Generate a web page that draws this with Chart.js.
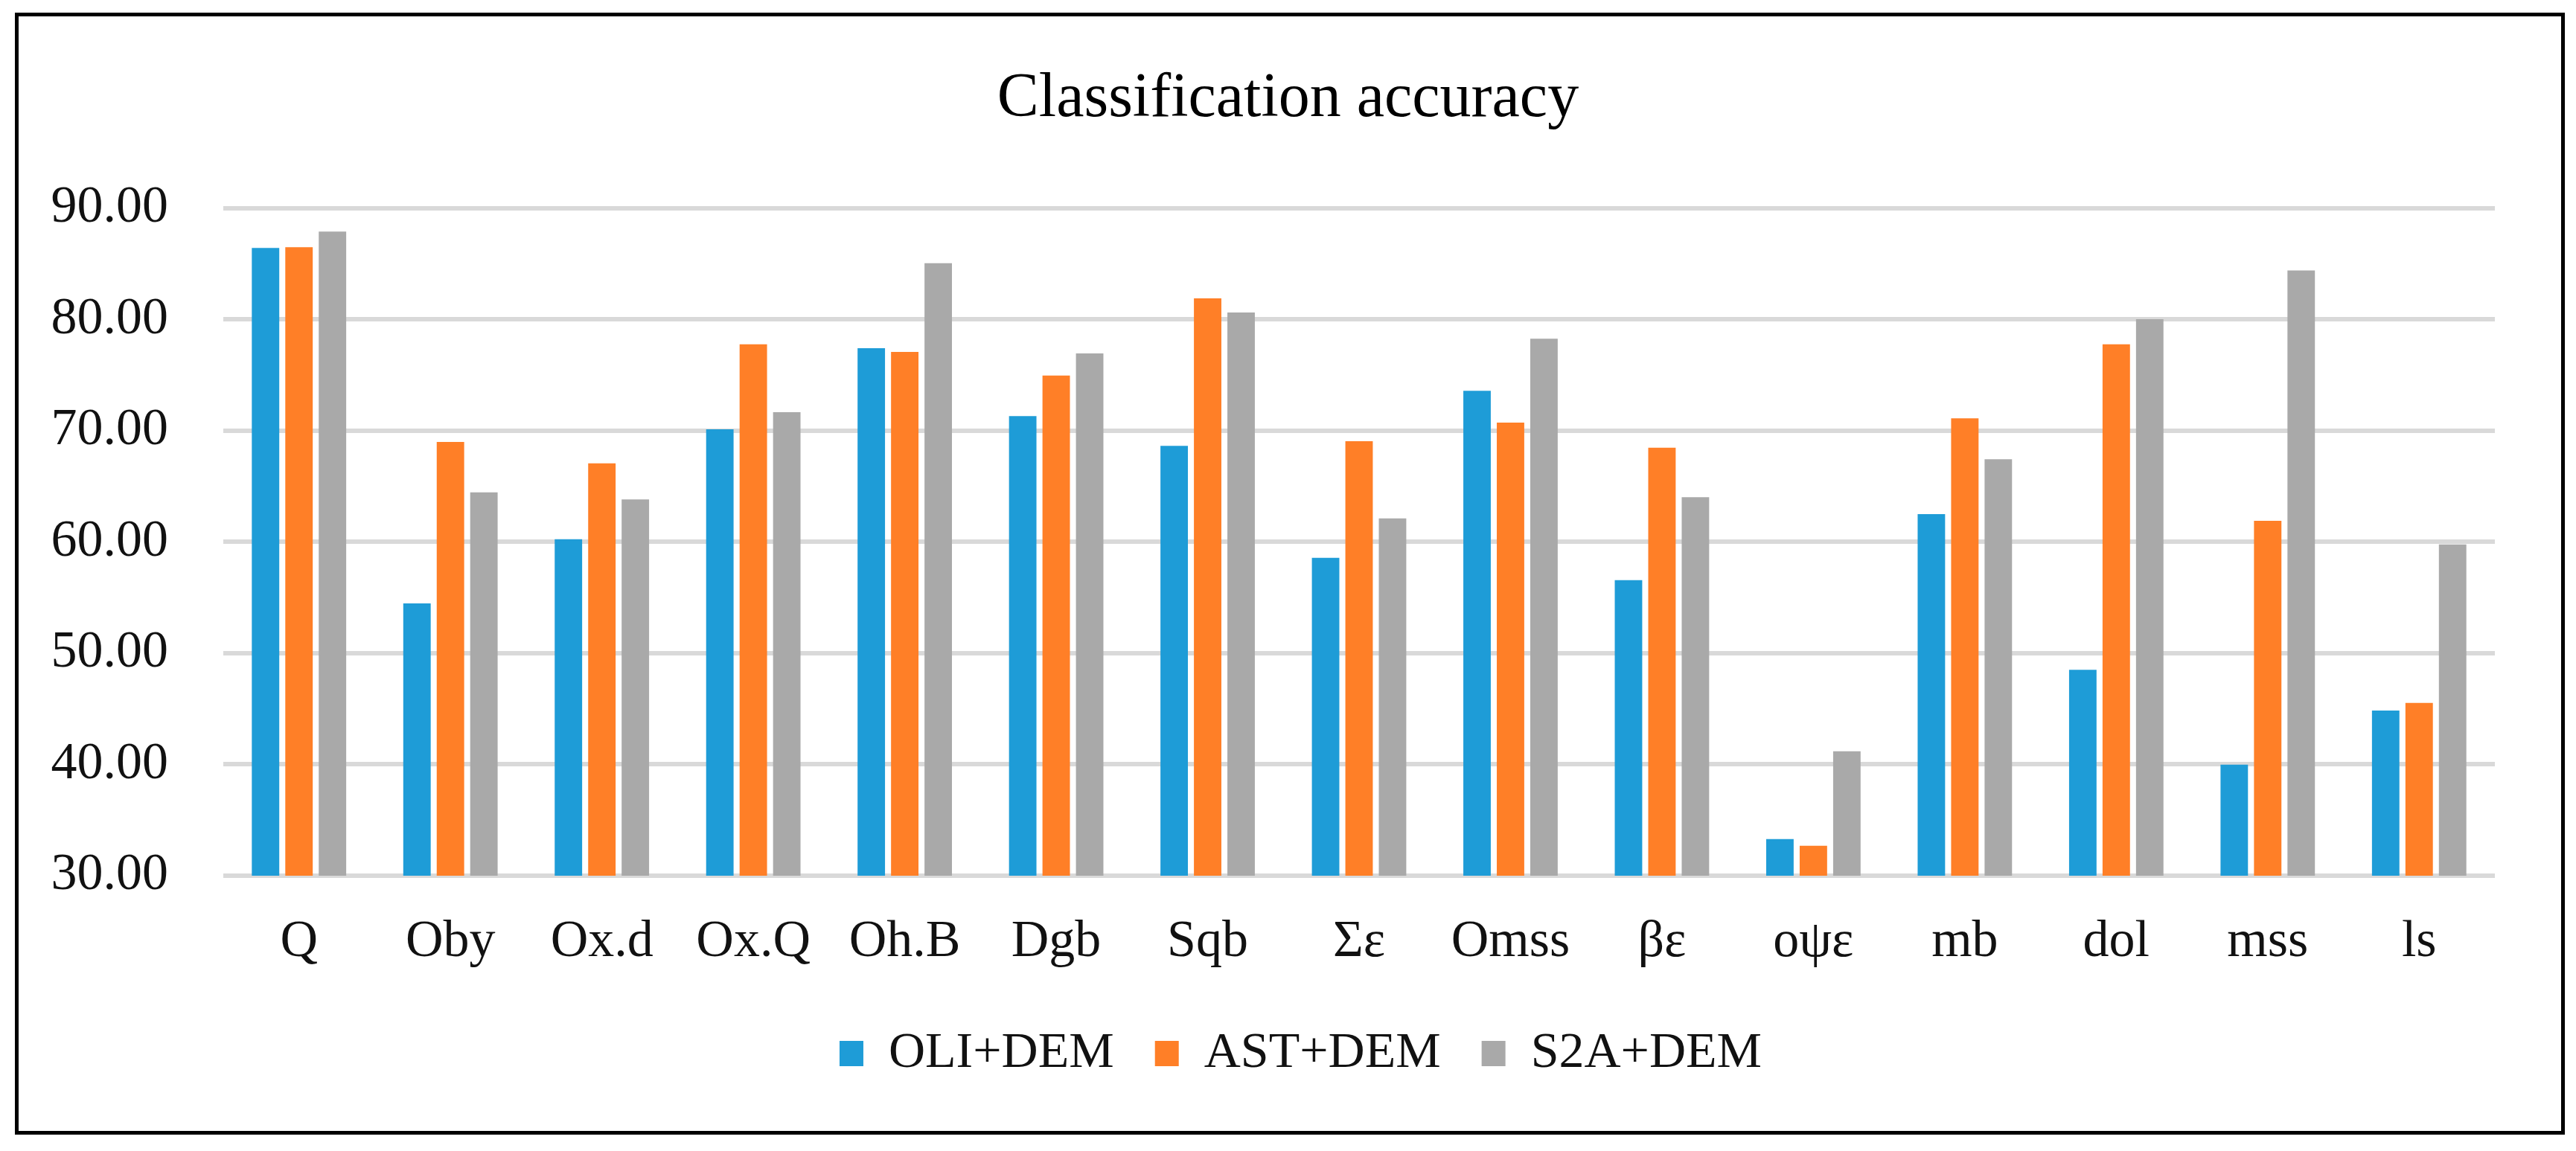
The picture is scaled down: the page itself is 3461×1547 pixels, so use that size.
<!DOCTYPE html>
<html>
<head>
<meta charset="utf-8">
<script src="https://cdn.jsdelivr.net/npm/chart.js@4/dist/chart.umd.min.js"></script>
<style>
  html, body { margin: 0; padding: 0; background: #fff; }
  #wrap { position: relative; width: 3461px; height: 1547px; }
  #frame {
    position: absolute; left: 20px; top: 17px; width: 3426px; height: 1508px;
    border: 5px solid #000; box-sizing: border-box; pointer-events: none;
  }
  canvas { position: absolute; left: 0; top: 0; }
</style>
</head>
<body>
<div id="wrap">
  <canvas id="chart" width="3461" height="1547"></canvas>
  <div id="frame"></div>
</div>
<script>
const categories = ["Q", "Oby", "Ox.d", "Ox.Q", "Oh.B", "Dgb", "Sqb", "Σε", "Omss", "βε", "οψε", "mb", "dol", "mss", "ls"];
const seriesNames = ["OLI+DEM", "AST+DEM", "S2A+DEM"];
const oliDem = [86.42, 54.48, 60.24, 70.13, 77.42, 71.32, 68.64, 58.57, 73.58, 56.57, 33.29, 62.50, 48.51, 39.98, 44.84];
const astDem = [86.50, 68.98, 67.06, 77.76, 77.08, 74.95, 81.90, 69.06, 70.73, 68.47, 32.69, 71.11, 77.76, 61.90, 45.53];
const s2aDem = [87.90, 64.46, 63.82, 71.66, 85.05, 76.95, 80.62, 62.11, 78.27, 64.03, 41.18, 67.44, 80.02, 84.41, 59.77];
const yTicks = [30, 40, 50, 60, 70, 80, 90];
const colors = ["#1E9CD7", "#FF7F27", "#A9A9A9"];

const serif = "Liberation Serif";
const textColor = "#111";

Chart.defaults.font.family = serif;
Chart.defaults.color = textColor;

// title and legend are centred on the whole picture, not on the padded area
const recentre = {
  id: "recentre",
  afterLayout(chart) {
    const w = chart.width;
    if (chart.titleBlock) { chart.titleBlock.left = 0; chart.titleBlock.right = w; }
    if (chart.legend) { chart.legend.left = 17; chart.legend.right = w + 17; }
  }
};

const ctx = document.getElementById("chart").getContext("2d");
new Chart(ctx, {
  type: "bar",
  data: {
    labels: categories,
    datasets: [oliDem, astDem, s2aDem].map((vals, i) => ({
      label: seriesNames[i],
      data: vals,
      backgroundColor: colors[i],
      borderWidth: 0,
      categoryPercentage: 0.663,
      barPercentage: 0.82
    }))
  },
  plugins: [recentre],
  options: {
    responsive: false,
    animation: false,
    devicePixelRatio: 1,
    layout: { padding: { left: 0, right: 109, top: 0, bottom: 87 } },
    plugins: {
      title: {
        display: true,
        text: "Classification accuracy",
        color: "#000",
        font: { family: serif, size: 84, weight: "normal" },
        padding: { top: 84, bottom: 95 }
      },
      legend: {
        position: "bottom",
        labels: {
          color: textColor,
          font: { family: serif, size: 68 },
          boxWidth: 32,
          boxHeight: 34,
          padding: 55
        }
      },
      tooltip: { enabled: false }
    },
    scales: {
      x: {
        grid: { display: false },
        border: { display: false },
        ticks: {
          color: textColor,
          font: { family: serif, size: 70 },
          padding: 40,
          maxRotation: 0
        },
        afterFit: s => { s.height = 150; }
      },
      y: {
        min: 30,
        max: 90,
        grid: { color: "#D9D9D9", lineWidth: 6, drawTicks: false },
        border: { display: false },
        afterBuildTicks: s => { s.ticks = yTicks.map(v => ({ value: v })); },
        ticks: {
          color: textColor,
          font: { family: serif, size: 70 },
          padding: 74,
          callback: v => Number(v).toFixed(2)
        },
        afterFit: s => { s.width = 300; }
      }
    }
  }
});
</script>
</body>
</html>
